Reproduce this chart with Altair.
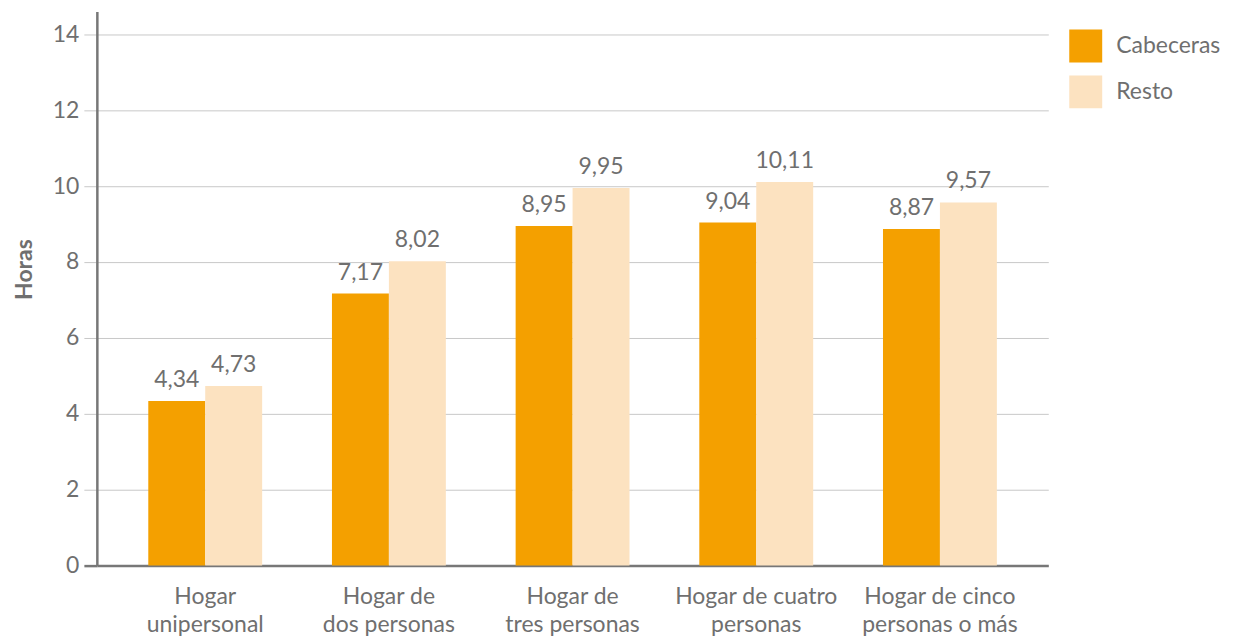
import altair as alt
import pandas as pd

categories = ["Hogar\nunipersonal", "Hogar de\ndos personas", "Hogar de\ntres personas",
              "Hogar de cuatro\npersonas", "Hogar de cinco\npersonas o más"]
series = ["Cabeceras", "Resto"]
cabeceras = [4.34, 7.17, 8.95, 9.04, 8.87]
resto = [4.73, 8.02, 9.95, 10.11, 9.57]
colors = ["#F4A000", "#FCE2C0"]
y_ticks = [0, 2, 4, 6, 8, 10, 12, 14]

rows = []
for i, c in enumerate(categories):
    rows.append({"cat": c, "serie": series[0], "v": cabeceras[i]})
    rows.append({"cat": c, "serie": series[1], "v": resto[i]})
df = pd.DataFrame(rows)
df["lab"] = df["v"].map(lambda v: f"{v:.2f}".replace(".", ","))

FONT = "Lato"
TXT = "#6f6f6f"
FS = 23

x = alt.X("cat:N", sort=categories, title=None,
          scale=alt.Scale(paddingInner=0.38, paddingOuter=0.28),
          axis=alt.Axis(labelExpr="split(datum.value, '\\n')", labelAngle=0,
                        labelFontSize=FS, labelColor=TXT, labelFont=FONT,
                        labelLineHeight=28, labelPadding=20, ticks=False,
                        domainColor="#777777", domainWidth=2.5, labelBaseline="top"))
xo = alt.XOffset("serie:N", sort=series)

base = alt.Chart(df)

bars = base.mark_bar().encode(
    x=x, xOffset=xo,
    y=alt.Y("v:Q", title="Horas",
            scale=alt.Scale(domain=[0, 14.6], nice=False),
            axis=alt.Axis(values=y_ticks, labelFontSize=FS, labelColor=TXT, labelFont=FONT,
                          tickSize=13, tickColor=alt.condition("datum.value == 0", alt.value("#777777"), alt.value("#c8c8c8")),
                          tickWidth=alt.condition("datum.value == 0", alt.value(2.5), alt.value(1)),
                          labelPadding=5, domainColor="#777777", domainWidth=2.5,
                          gridColor="#c8c8c8", gridWidth=1,
                          titleFont=FONT, titleFontSize=23, titleFontWeight="bold",
                          titleColor=TXT, titleX=-60, titleY=258, titleAngle=-90,
                          titleAlign="center", titleBaseline="bottom")),
    color=alt.Color("serie:N", sort=series,
                    scale=alt.Scale(domain=series, range=colors),
                    legend=alt.Legend(title=None, orient="none", legendX=974, legendY=18,
                                      symbolType="square", symbolSize=1089, symbolStrokeWidth=0,
                                      labelFontSize=FS, labelColor=TXT, labelFont=FONT,
                                      labelOffset=14, rowPadding=13)),
)

labels = base.mark_text(baseline="bottom", dy=-9, fontSize=FS, font=FONT, color=TXT).encode(
    x=x, xOffset=xo, y="v:Q", text="lab:N")

chart = (bars + labels).properties(
    width=953, height=555,
    padding={"left": 89, "top": 3, "right": 180, "bottom": 70},
    autosize=alt.AutoSizeParams(type="none"),
).configure_view(stroke=None)

chart.save("out.html", embed_options={"renderer": "svg", "actions": False})
